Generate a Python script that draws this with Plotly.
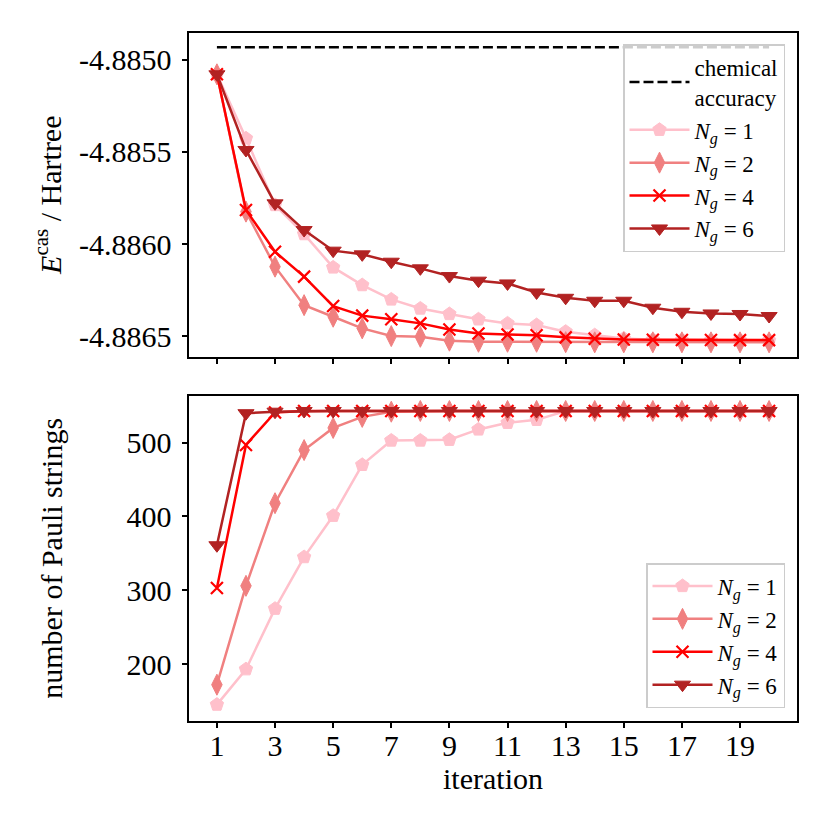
import plotly.graph_objects as go

iterations = list(range(1, 21))

chem_acc = -4.884931

E_ng1 = [-4.885078, -4.885426, -4.885788, -4.885946, -4.886127, -4.886223, -4.886301,
         -4.886350, -4.886380, -4.886409, -4.886431, -4.886440, -4.886476, -4.886495,
         -4.886513, -4.886520, -4.886522, -4.886523, -4.886523, -4.886524]
E_ng2 = [-4.885078, -4.885824, -4.886123, -4.886332, -4.886395, -4.886458, -4.886500,
         -4.886504, -4.886525, -4.886531, -4.886531, -4.886531, -4.886533, -4.886534,
         -4.886534, -4.886534, -4.886534, -4.886534, -4.886534, -4.886534]
E_ng4 = [-4.885078, -4.885815, -4.886042, -4.886177, -4.886337, -4.886389, -4.886409,
         -4.886431, -4.886464, -4.886486, -4.886491, -4.886495, -4.886507, -4.886515,
         -4.886519, -4.886520, -4.886521, -4.886521, -4.886522, -4.886522]
E_ng6 = [-4.885078, -4.885489, -4.885779, -4.885924, -4.886036, -4.886056, -4.886096,
         -4.886132, -4.886174, -4.886199, -4.886214, -4.886263, -4.886292, -4.886308,
         -4.886308, -4.886346, -4.886368, -4.886377, -4.886380, -4.886391]

P_ng1 = [145, 193, 275, 345, 401, 470, 503, 503, 504, 518, 527, 531, 543, 543,
         543, 543, 543, 543, 543, 543]
P_ng2 = [172, 306, 418, 490, 520, 535, 542, 543, 543, 543, 543, 543, 543, 543,
         543, 543, 543, 543, 543, 543]
P_ng4 = [303, 497, 541, 543, 543, 543, 543, 543, 543, 543, 543, 543, 543, 543,
         543, 543, 543, 543, 543, 543]
P_ng6 = [361, 540, 542, 543, 543, 543, 543, 543, 543, 543, 543, 543, 543, 543,
         543, 543, 543, 543, 543, 543]

E_tick_vals = [-4.8850, -4.8855, -4.8860, -4.8865]
E_tick_text = ["-4.8850", "-4.8855", "-4.8860", "-4.8865"]
P_tick_vals = [200, 300, 400, 500]
x_tick_vals = [1, 3, 5, 7, 9, 11, 13, 15, 17, 19]

labels = ["<i>N</i><sub><i>g</i></sub> = 1", "<i>N</i><sub><i>g</i></sub> = 2",
          "<i>N</i><sub><i>g</i></sub> = 4", "<i>N</i><sub><i>g</i></sub> = 6"]
colors = ["#FFC0CB", "#F08080", "#FF0000", "#B22222"]
symbols = ["pentagon", "diamond-tall", "x-thin", "triangle-down"]
sizes = [14, 15, 12, 14]

FONT = "Liberation Serif"
W = 822.0   # page body has an 8px margin; reference pixel p -> paper pixel p-8
OFF = 8.0


def fx(p):
    return (p - OFF) / W


def fy(p):
    return 1 - (p - OFF) / W


fig = go.Figure()

fig.add_trace(go.Scatter(
    x=[iterations[0], iterations[-1]], y=[chem_acc, chem_acc],
    mode="lines", line=dict(color="black", width=2.5, dash="10px,4px"),
    name="chemical<br>accuracy", xaxis="x2", yaxis="y2", legend="legend"))

for E, lab, c, s, sz in zip([E_ng1, E_ng2, E_ng4, E_ng6], labels, colors, symbols, sizes):
    mk = dict(symbol=s, size=sz, color=c, line=dict(color=c, width=2.2 if s == "x-thin" else 1))
    fig.add_trace(go.Scatter(x=iterations, y=E, mode="lines+markers", name=lab,
                             line=dict(color=c, width=2.5), marker=mk,
                             xaxis="x2", yaxis="y2", legend="legend"))

for P, lab, c, s, sz in zip([P_ng1, P_ng2, P_ng4, P_ng6], labels, colors, symbols, sizes):
    mk = dict(symbol=s, size=sz, color=c, line=dict(color=c, width=2.2 if s == "x-thin" else 1))
    fig.add_trace(go.Scatter(x=iterations, y=P, mode="lines+markers", name=lab,
                             line=dict(color=c, width=2.5), marker=mk,
                             xaxis="x", yaxis="y", legend="legend2"))

axis_common = dict(showline=True, linecolor="black", linewidth=1.5, mirror=True,
                   ticks="outside", ticklen=6, tickwidth=1.5, tickcolor="black",
                   showgrid=False, zeroline=False,
                   tickfont=dict(family=FONT, size=30, color="black"))

xdom = [fx(189.3), fx(796.7)]

legend_common = dict(bgcolor="rgba(255,255,255,0.8)", bordercolor="#cccccc", borderwidth=1.5,
                     itemwidth=60, font=dict(family=FONT, size=23, color="black"))

fig.update_layout(
    width=int(W), height=int(W),
    margin=dict(l=0, r=0, t=0, b=0),
    paper_bgcolor="white", plot_bgcolor="white",
    font=dict(family=FONT, color="black"),
    showlegend=True,
    xaxis=dict(domain=xdom, range=[0.05, 20.95], anchor="y",
               tickvals=x_tick_vals, ticklabelstandoff=-8,
               title=dict(text="iteration", font=dict(family=FONT, size=30), standoff=0),
               **axis_common),
    yaxis=dict(domain=[fy(720.7), fy(396)], range=[123.2, 563.3], anchor="x",
               tickvals=P_tick_vals, ticklabelstandoff=4,
               title=dict(text="number of Pauli strings", font=dict(family=FONT, size=30), standoff=55),
               **axis_common),
    xaxis2=dict(domain=xdom, range=[0.05, 20.95], anchor="y2",
                tickvals=x_tick_vals, showticklabels=False, matches="x",
                **axis_common),
    yaxis2=dict(domain=[fy(356.7), fy(32.7)], range=[-4.886612, -4.884852], anchor="x2",
                tickvals=E_tick_vals, ticktext=E_tick_text, ticklabelstandoff=4,
                title=dict(text="<i>E</i><sup>cas</sup> / Hartree", font=dict(family=FONT, size=30), standoff=9),
                **axis_common),
    legend=dict(x=fx(785), y=fy(44), xanchor="right", yanchor="top", **legend_common),
    legend2=dict(x=fx(785), y=fy(708), xanchor="right", yanchor="bottom", **legend_common),
)

fig.write_html("out.html")
